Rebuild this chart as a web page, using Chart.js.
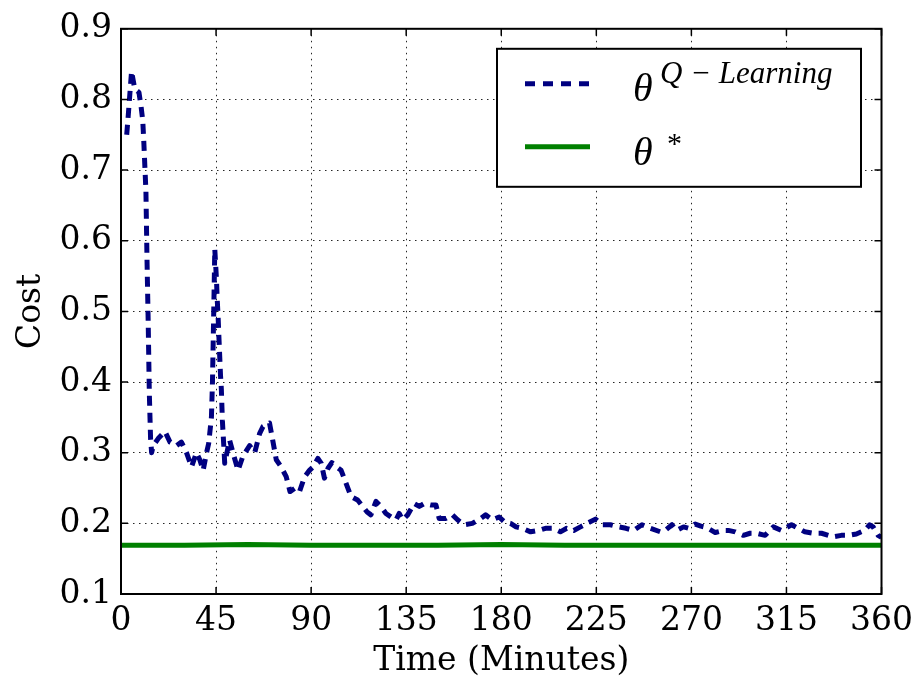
<!DOCTYPE html>
<html>
<head>
<meta charset="utf-8">
<script src="https://cdn.jsdelivr.net/npm/chart.js@4.4.1/dist/chart.umd.min.js"></script>
<style>
  html, body { margin: 0; padding: 0; background: #fff; }
  #wrap { width: 921px; height: 679px; }
</style>
</head>
<body>
<div id="wrap"><canvas id="costChart" width="921" height="679"></canvas></div>
<script>
// --- data ---
const qTimes = [
  2.7, 3.5, 5.0, 6.5, 8.5, 9.5, 10.3, 10.8, 11.3, 11.8, 12.3, 12.9, 13.4, 14.0, 14.5,
  15.3, 17.6, 20.8, 23.2, 26.3, 28.6, 31.0, 33.4, 35.7, 37.3, 38.9, 40.5, 41.5, 42.8,
  43.3, 43.6, 43.9, 44.4, 45.2, 45.5, 46.0, 46.4, 47.1, 47.5, 48.0, 48.6, 49.1,
  51.4, 53.0, 55.4, 57.7, 60.9, 63.3, 65.6, 67.2, 70.3, 71.8, 73.5, 75.8, 78.2,
  80.0, 82.5, 84.5, 86.9, 89.2, 91.0, 93.2, 94.8, 96.3, 98.0, 99.8, 102.0, 104.2,
  106.5, 108.9, 112.0, 114.4, 116.5, 118.3, 120.7, 123.0, 125.4, 127.8, 130.2, 131.7,
  133.3, 135.7, 138.8, 141.2, 143.5, 146.7, 149.1, 150.6, 153.8, 156.9, 159.3, 162.4,
  166.3, 170.3, 172.6, 175.8, 179.0, 181.5, 184.4, 187.0, 190.0, 193.9, 197.8, 201.0,
  204.5, 208.0, 211.0, 214.3, 217.5, 220.7, 224.6, 227.7, 231.7, 235.6, 239.0, 242.7,
  246.6, 250.6, 255.3, 257.6, 260.8, 263.0, 266.3, 268.6, 271.8, 274.5, 277.3, 281.3,
  285.2, 287.5, 290.7, 294.6, 297.8, 300.9, 304.9, 308.8, 312.7, 317.4, 320.5, 323.7,
  327.7, 331.6, 337.1, 341.0, 344.2, 348.1, 352.0, 354.4, 356.0, 358.4, 360.0
];
const qCost = [
  0.750, 0.780, 0.840, 0.815, 0.810, 0.790, 0.770, 0.740, 0.705, 0.670, 0.575, 0.480, 0.385, 0.320, 0.300,
  0.310, 0.320, 0.330, 0.315, 0.310, 0.315, 0.300, 0.280, 0.300, 0.290, 0.275, 0.300, 0.313, 0.350,
  0.400, 0.450, 0.500, 0.588, 0.545, 0.520, 0.490, 0.460, 0.410, 0.390, 0.345, 0.313, 0.285,
  0.318, 0.300, 0.275, 0.295, 0.310, 0.300, 0.327, 0.337, 0.342, 0.318, 0.290, 0.280, 0.266,
  0.245, 0.250, 0.245, 0.266, 0.275, 0.280, 0.292, 0.285, 0.264, 0.278, 0.286, 0.280, 0.275,
  0.257, 0.238, 0.233, 0.224, 0.216, 0.212, 0.231, 0.224, 0.214, 0.209, 0.205, 0.214,
  0.205, 0.212, 0.228, 0.224, 0.228, 0.226, 0.226, 0.207, 0.207, 0.212, 0.205, 0.198,
  0.200, 0.207, 0.212, 0.205, 0.209, 0.202, 0.200, 0.195, 0.193, 0.188, 0.190, 0.193,
  0.193, 0.188, 0.193, 0.190, 0.195, 0.200, 0.206, 0.198, 0.198, 0.195, 0.193, 0.190,
  0.198, 0.193, 0.188, 0.190, 0.198, 0.190, 0.195, 0.193, 0.199, 0.196, 0.194, 0.187,
  0.190, 0.190, 0.188, 0.183, 0.186, 0.186, 0.183, 0.195, 0.190, 0.198, 0.193, 0.188,
  0.186, 0.186, 0.181, 0.183, 0.183, 0.185, 0.190, 0.198, 0.195, 0.183, 0.180
];
const optTimes = [0, 30, 60, 90, 120, 150, 180, 210, 240, 270, 300, 330, 360];
const optCost = [0.169, 0.169, 0.170, 0.169, 0.169, 0.169, 0.170, 0.169, 0.169, 0.169, 0.169, 0.169, 0.169];
const xTicks = [0, 45, 90, 135, 180, 225, 270, 315, 360];
const yTicks = [0.1, 0.2, 0.3, 0.4, 0.5, 0.6, 0.7, 0.8, 0.9];

const BLUE = '#000080';
const GREEN = '#008000';
const SERIF = "'DejaVu Serif', serif";

// frame, inward tick marks and the legend box (matplotlib style)
const framePlugin = {
  id: 'frame',
  afterDraw(chart) {
    const { ctx, chartArea: a, scales } = chart;
    ctx.save();
    ctx.strokeStyle = '#000';
    ctx.lineWidth = 1.5;
    xTicks.forEach(t => {
      const px = scales.x.getPixelForValue(t);
      ctx.beginPath();
      ctx.moveTo(px, a.bottom); ctx.lineTo(px, a.bottom - 7);
      ctx.moveTo(px, a.top); ctx.lineTo(px, a.top + 7);
      ctx.stroke();
    });
    yTicks.forEach(t => {
      const py = scales.y.getPixelForValue(t);
      ctx.beginPath();
      ctx.moveTo(a.left, py); ctx.lineTo(a.left + 7, py);
      ctx.moveTo(a.right, py); ctx.lineTo(a.right - 7, py);
      ctx.stroke();
    });
    ctx.lineWidth = 2;
    ctx.strokeRect(a.left, a.top, a.right - a.left, a.bottom - a.top);

    // legend
    const bx = a.left + 376, by = a.top + 20, bw = 364, bh = 138;
    ctx.fillStyle = '#fff';
    ctx.fillRect(bx, by, bw, bh);
    ctx.lineWidth = 2;
    ctx.strokeStyle = '#000';
    ctx.strokeRect(bx, by, bw, bh);

    ctx.lineWidth = 5;
    ctx.strokeStyle = BLUE;
    ctx.setLineDash([10, 8]);
    ctx.beginPath();
    ctx.moveTo(bx + 28, by + 35); ctx.lineTo(bx + 92, by + 35);
    ctx.stroke();
    ctx.setLineDash([]);
    ctx.strokeStyle = GREEN;
    ctx.beginPath();
    ctx.moveTo(bx + 28, by + 98); ctx.lineTo(bx + 93, by + 98);
    ctx.stroke();

    ctx.fillStyle = '#000';
    ctx.textBaseline = 'alphabetic';
    ctx.textAlign = 'left';
    ctx.font = "italic 40px 'Liberation Serif', serif";
    ctx.fillText('θ', bx + 136, by + 52);
    ctx.fillText('θ', bx + 136, by + 116);
    ctx.font = "italic 31px 'Liberation Serif', serif";
    ctx.fillText('Q − Learning', bx + 163, by + 34);
    ctx.font = "30px 'Liberation Serif', serif";
    ctx.fillText('*', bx + 170, by + 104);
    ctx.restore();
  }
};

const gridStyle = { color: 'rgba(0,0,0,0.85)', lineWidth: 1, drawTicks: false };

new Chart(document.getElementById('costChart'), {
  type: 'line',
  data: {
    datasets: [
      {
        label: 'θ Q-Learning',
        data: qTimes.map((t, i) => ({ x: t, y: qCost[i] })),
        borderColor: BLUE,
        borderWidth: 5,
        borderDash: [10, 7],
        borderJoinStyle: 'round',
        pointRadius: 0,
        tension: 0,
        fill: false
      },
      {
        label: 'θ*',
        data: optTimes.map((t, i) => ({ x: t, y: optCost[i] })),
        borderColor: GREEN,
        borderWidth: 5,
        pointRadius: 0,
        tension: 0,
        fill: false
      }
    ]
  },
  options: {
    responsive: false,
    animation: false,
    layout: { padding: { top: 28, right: 39, left: 0, bottom: 0 } },
    plugins: { legend: { display: false }, tooltip: { enabled: false } },
    scales: {
      x: {
        type: 'linear',
        min: 0,
        max: 360,
        afterBuildTicks: s => { s.ticks = xTicks.map(v => ({ value: v })); },
        afterFit: s => { s.height = 85; },
        ticks: { color: '#000', padding: 8, maxRotation: 0, font: { family: SERIF, size: 33 } },
        grid: gridStyle,
        border: { display: false, dash: [1.5, 4.5] },
        title: { display: true, text: 'Time (Minutes)', color: '#000', padding: { top: 0, bottom: -2 }, font: { family: SERIF, size: 33 } }
      },
      y: {
        min: 0.1,
        max: 0.9,
        afterBuildTicks: s => { s.ticks = yTicks.map(v => ({ value: v })); },
        afterFit: s => { s.width = 121; },
        ticks: { color: '#000', padding: 9, callback: v => v.toFixed(1), font: { family: SERIF, size: 33 } },
        grid: gridStyle,
        border: { display: false, dash: [1.5, 4.5] },
        title: { display: true, text: 'Cost', color: '#000', padding: { top: 12, bottom: 0 }, font: { family: SERIF, size: 33 } }
      }
    }
  },
  plugins: [framePlugin]
});
</script>
</body>
</html>
